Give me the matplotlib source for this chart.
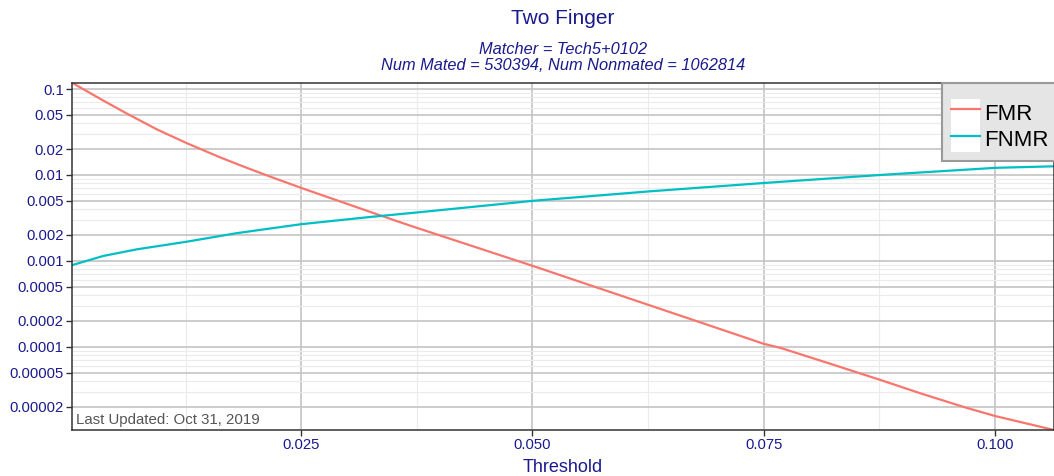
import matplotlib
matplotlib.use("Agg")
import matplotlib.pyplot as plt
from matplotlib.ticker import FixedLocator, NullFormatter
from matplotlib.patches import Rectangle
from matplotlib.legend_handler import HandlerTuple

plt.rcParams['font.family'] = ['Liberation Sans', 'DejaVu Sans']

# ---- data ----
fmr_thr = [0.0002, 0.0036, 0.00595, 0.00938, 0.01263, 0.01623, 0.0188, 0.02164, 0.0250,
           0.0335, 0.0368, 0.0501, 0.0626, 0.0682, 0.0750, 0.07684, 0.08225, 0.0877,
           0.0920, 0.0970, 0.1001, 0.1064]
fmr_val = [0.1186, 0.0733, 0.0531, 0.0339, 0.0234, 0.0160, 0.01245, 0.00955, 0.00705,
           0.00339, 0.00256, 0.000867, 0.000305, 0.000191, 0.000108, 0.0000966, 0.0000630,
           0.0000407, 0.0000285, 0.0000193, 0.0000155, 0.0000107]

fnmr_thr = [0.0002, 0.0036, 0.00722, 0.01263, 0.01804, 0.0250, 0.03247, 0.0379,
            0.0501, 0.0626, 0.0750, 0.0877, 0.1001, 0.1064]
fnmr_val = [0.00089, 0.00114, 0.00136, 0.00167, 0.00210, 0.00267, 0.00324, 0.00369,
            0.00500, 0.00643, 0.00805, 0.0100, 0.0121, 0.0126]

y_breaks = [0.1, 0.05, 0.02, 0.01, 0.005, 0.002, 0.001, 0.0005, 0.0002, 0.0001, 0.00005, 0.00002]
y_labels = ["0.1", "0.05", "0.02", "0.01", "0.005", "0.002", "0.001", "0.0005",
            "0.0002", "0.0001", "0.00005", "0.00002"]
x_breaks = [0.025, 0.050, 0.075, 0.100]
x_labels = ["0.025", "0.050", "0.075", "0.100"]
x_minor = [0.0125, 0.0375, 0.0625, 0.0875]

title = "Two Finger"
subtitle = "Matcher = Tech5+0102\nNum Mated = 530394, Num Nonmated = 1062814"
xlabel = "Threshold"
note = "Last Updated: Oct 31, 2019"

FMR_COL = "#F8766D"
FNMR_COL = "#00BFC4"
NAVY = "#1a1a8c"

W, H = 1054, 476
fig = plt.figure(figsize=(W / 100, H / 100), dpi=100)
L, R, T, B = 72, 1054, 82.7, 430
ax = fig.add_axes([L / W, 1 - B / H, (R - L) / W, (B - T) / H])

ax.set_yscale("log")
ax.set_xlim(min(fmr_thr), max(fmr_thr))
ax.set_ylim(min(fmr_val), max(fmr_val))

# grids
ax.set_yticks(y_breaks)
ax.set_yticklabels(y_labels)
ymin_all = []
for e in range(-6, 1):
    for k in range(1, 10):
        v = k * 10.0 ** e
        if not any(abs(v - b) / b < 1e-9 for b in y_breaks):
            ymin_all.append(v)
ax.yaxis.set_minor_locator(FixedLocator(ymin_all))
ax.yaxis.set_minor_formatter(NullFormatter())
ax.set_xticks(x_breaks)
ax.set_xticklabels(x_labels)
ax.xaxis.set_minor_locator(FixedLocator(x_minor))

ax.grid(which="minor", color="#EBEBEB", linewidth=0.8)
ax.grid(which="major", color="#C4C4C4", linewidth=1.2)
ax.set_axisbelow(True)

ax.tick_params(which="major", length=4, width=1, color="#333333", labelcolor=NAVY,
               labelsize=10.7, pad=2)
ax.tick_params(which="minor", length=0)
for s in ax.spines.values():
    s.set_color("#333333")
    s.set_linewidth(1.1)

l1, = ax.plot(fmr_thr, fmr_val, color=FMR_COL, linewidth=1.6, label="FMR")
l2, = ax.plot(fnmr_thr, fnmr_val, color=FNMR_COL, linewidth=1.6, label="FNMR")

ax.set_xlabel(xlabel, color=NAVY, fontsize=13, labelpad=5)

ax.text(0.004, 0.008, note, transform=ax.transAxes, ha="left", va="bottom",
        color="#555555", fontsize=10.8)

# titles
cx = (L + R) / 2 / W
fig.text(cx, 1 - 19 / H, title, ha="center", va="center", color=NAVY, fontsize=15)
fig.text(cx, 1 - 57.5 / H, subtitle, ha="center", va="center", color=NAVY, fontsize=11.8,
         style="italic", linespacing=1.05)

# legend
wp1 = Rectangle((0, 0), 1, 1, facecolor="white", edgecolor="none")
wp2 = Rectangle((0, 0), 1, 1, facecolor="white", edgecolor="none")
leg = ax.legend([(wp1, l1), (wp2, l2)], ["FMR", "FNMR"],
                handler_map={tuple: HandlerTuple(ndivide=1, pad=0)},
                loc="upper left", bbox_to_anchor=((941.7 - L) / (R - L), 1.0),
                borderaxespad=0, fontsize=16, handlelength=1.3, handleheight=1.45,
                handletextpad=0.2, labelspacing=0.0, borderpad=0.42, frameon=True,
                fancybox=False, title=" ", title_fontsize=5)
fr = leg.get_frame()
fr.set_facecolor("#E5E5E5")
fr.set_edgecolor("#999999")
fr.set_linewidth(1.5)
fr.set_alpha(1)
leg.set_clip_on(False)

fig.savefig("out.png", dpi=100)
